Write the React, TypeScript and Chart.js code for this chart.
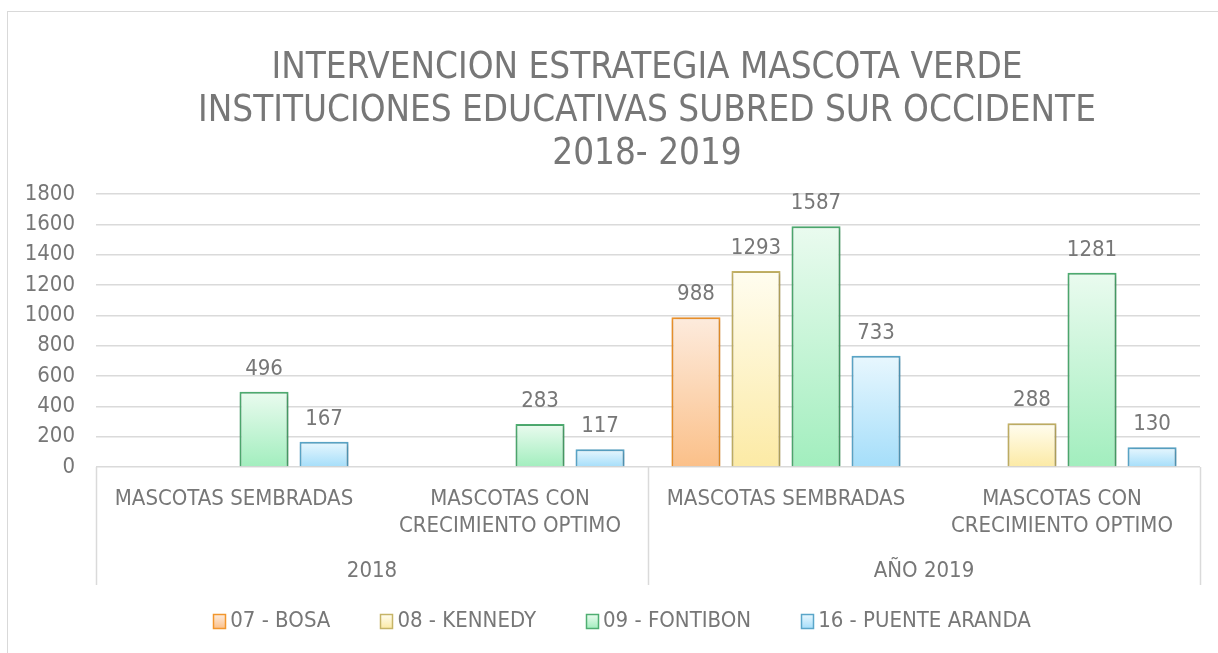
import React, { useEffect, useRef } from "react";
import { Chart, registerables } from "chart.js";

Chart.register(...registerables);

// ---------- data ----------
const titleLines = [
  "INTERVENCION ESTRATEGIA MASCOTA VERDE",
  "INSTITUCIONES EDUCATIVAS SUBRED SUR OCCIDENTE",
  "2018- 2019",
];
const categories = [
  ["MASCOTAS SEMBRADAS"],
  ["MASCOTAS CON", "CRECIMIENTO OPTIMO"],
  ["MASCOTAS SEMBRADAS"],
  ["MASCOTAS CON", "CRECIMIENTO OPTIMO"],
];
const groupLabels = ["2018", "AÑO 2019"];
const groupSizes = [2, 2];
const seriesNames = ["07 - BOSA", "08 - KENNEDY", "09 - FONTIBON", "16 - PUENTE ARANDA"];
const bosa = [null, null, 988, null];
const kennedy = [null, null, 1293, 288];
const fontibon = [496, 283, 1587, 1281];
const puenteAranda = [167, 117, 733, 130];
const yMin = 0;
const yMax = 1800;
const yStep = 200;

// ---------- styles ----------
const W = 1218;
const H = 653;
const FONT = "'DejaVu Sans Condensed', 'DejaVu Sans', sans-serif";
const TEXT = "#777777";
const GRID = "#dadada";
const palettes = [
  { border: "#F2962C", top: "#FDEBDD", bottom: "#FBC089" },
  { border: "#C6B467", top: "#FFFDF0", bottom: "#FCEAA5" },
  { border: "#4FAE72", top: "#EAFBEF", bottom: "#A2EEBE" },
  { border: "#5AA6C9", top: "#E8F7FE", bottom: "#A5DEFA" },
];

function makeGradient(c: CanvasRenderingContext2D, top: number, bottom: number, p: any) {
  const g = c.createLinearGradient(0, top, 0, bottom);
  g.addColorStop(0, p.top);
  g.addColorStop(1, p.bottom);
  return g;
}

const overlayPlugin = {
  id: "overlay",
  beforeDatasetsDraw(chart: any) {
    const c = chart.ctx;
    c.save();
    c.shadowColor = "rgba(0,0,0,0.22)";
    c.shadowBlur = 4;
    c.shadowOffsetX = 1;
    c.shadowOffsetY = 1;
  },
  afterDatasetsDraw(chart: any) {
    chart.ctx.restore();
  },
  afterDraw(chart: any) {
    const c = chart.ctx as CanvasRenderingContext2D;
    const area = chart.chartArea;
    c.save();

    // title
    c.fillStyle = TEXT;
    c.font = `36.5px ${FONT}`;
    c.textAlign = "center";
    c.textBaseline = "middle";
    const titleCx = (area.left + area.right) / 2 - 1;
    titleLines.forEach((t, i) => c.fillText(t, titleCx, 69 + i * 43));

    // data labels
    c.font = `22px ${FONT}`;
    c.textBaseline = "alphabetic";
    chart.data.datasets.forEach((ds: any, di: number) => {
      const meta = chart.getDatasetMeta(di);
      meta.data.forEach((el: any, i: number) => {
        const v = ds.data[i];
        if (v == null) return;
        c.fillText(String(v), el.x, el.y - 17);
      });
    });

    // category group separators & labels
    const n = categories.length;
    const catW = (area.right - area.left) / n;
    const lineBottom = 585;
    c.strokeStyle = GRID;
    c.lineWidth = 1.5;
    let idx = 0;
    const bounds = [0];
    groupSizes.forEach((s) => {
      idx += s;
      bounds.push(idx);
    });
    bounds.forEach((b) => {
      const x = Math.round(area.left + b * catW) + 0.5;
      c.beginPath();
      c.moveTo(x, area.bottom);
      c.lineTo(x, lineBottom);
      c.stroke();
    });
    c.font = `22px ${FONT}`;
    c.textBaseline = "middle";
    groupLabels.forEach((g, gi) => {
      const x0 = area.left + bounds[gi] * catW;
      const x1 = area.left + bounds[gi + 1] * catW;
      c.fillText(g, (x0 + x1) / 2, 571);
    });

    // legend
    const boxW = 12;
    const boxH = 14;
    const boxGap = 5;
    const itemGap = 50;
    const widths = seriesNames.map((s) => boxW + boxGap + c.measureText(s).width);
    const total = widths.reduce((a, b) => a + b, 0) + itemGap * (widths.length - 1);
    let lx = 622 - total / 2;
    const ly = 621;
    c.textAlign = "left";
    seriesNames.forEach((s, i) => {
      const p = palettes[i];
      const bx = Math.round(lx) + 0.5;
      const by = Math.round(ly - boxH / 2) + 0.5;
      c.fillStyle = makeGradient(c, by, by + boxH, p);
      c.fillRect(bx, by, boxW, boxH);
      c.strokeStyle = p.border;
      c.lineWidth = 1.5;
      c.strokeRect(bx, by, boxW, boxH);
      c.fillStyle = TEXT;
      c.fillText(s, lx + boxW + boxGap, ly);
      lx += widths[i] + itemGap;
    });

    c.restore();
  },
};

export default function App() {
  const ref = useRef<HTMLCanvasElement | null>(null);

  useEffect(() => {
    document.body.style.margin = "0";
    const canvas = ref.current;
    if (!canvas) return;
    const seriesData = [bosa, kennedy, fontibon, puenteAranda];
    const chart = new Chart(canvas, {
      type: "bar",
      data: {
        labels: categories,
        datasets: seriesData.map((d, i) => ({
          label: seriesNames[i],
          data: d,
          borderColor: palettes[i].border,
          borderWidth: 2,
          borderSkipped: "bottom",
          categoryPercentage: 0.87,
          barPercentage: 0.817,
          backgroundColor: (ctx: any) => {
            const ch = ctx.chart;
            const v = ctx.raw;
            if (!ch.chartArea || v == null || !ch.scales.y) return palettes[i].bottom;
            const top = ch.scales.y.getPixelForValue(v);
            const bottom = ch.scales.y.getPixelForValue(0);
            return makeGradient(ch.ctx, top, bottom, palettes[i]);
          },
        })),
      },
      options: {
        responsive: false,
        animation: false,
        devicePixelRatio: 1,
        layout: { padding: { top: 194, right: 18, left: 0, bottom: 0 } },
        plugins: {
          legend: { display: false },
          title: { display: false },
          tooltip: { enabled: false },
        },
        scales: {
          x: {
            grid: { display: false, drawTicks: false },
            border: { display: false },
            ticks: {
              color: TEXT,
              font: { family: FONT, size: 22, lineHeight: 1.23 },
              padding: 19,
              maxRotation: 0,
              autoSkip: false,
            },
            afterFit: (s: any) => {
              s.height = 186;
            },
          },
          y: {
            min: yMin,
            max: yMax,
            grid: { color: GRID, lineWidth: 1.5, drawTicks: false },
            border: { display: false },
            ticks: {
              stepSize: yStep,
              color: TEXT,
              font: { family: FONT, size: 22 },
              padding: 21,
              callback: (v: any) => String(v),
            },
            afterFit: (s: any) => {
              s.width = 96;
            },
          },
        },
      },
      plugins: [overlayPlugin],
    } as any);
    return () => chart.destroy();
  }, []);

  return (
    <div
      style={{
        position: "fixed",
        left: 0,
        top: 0,
        width: W,
        height: H,
        overflow: "hidden",
        background: "#fff",
      }}
    >
      <div
        style={{
          position: "absolute",
          left: 7,
          top: 11,
          width: 1400,
          height: 900,
          border: "1px solid #d9d9d9",
        }}
      />
      <canvas
        ref={ref}
        width={W}
        height={H}
        style={{ position: "absolute", left: 0, top: 0, width: W, height: H }}
      />
    </div>
  );
}
